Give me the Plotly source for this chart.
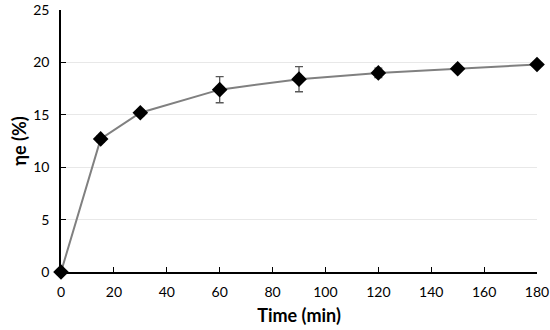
import plotly.graph_objects as go

time_min = [0, 15, 30, 60, 90, 120, 150, 180]
eta_e = [0.0, 12.7, 15.2, 17.4, 18.4, 19.0, 19.4, 19.8]
eta_err = [0.0, 0.3, 0.3, 1.25, 1.2, 0.45, 0.2, 0.2]
x_ticks = [0, 20, 40, 60, 80, 100, 120, 140, 160, 180]
y_ticks = [0, 5, 10, 15, 20, 25]

fig = go.Figure()
fig.add_trace(go.Scatter(
    x=time_min, y=eta_e,
    mode="lines+markers",
    line=dict(color="#808080", width=2),
    marker=dict(symbol="diamond", size=12, color="black"),
    error_y=dict(type="data", array=eta_err, visible=True,
                 color="#595959", thickness=1.3, width=4),
    showlegend=False,
    cliponaxis=False,
))

font_family = "Lato, Open Sans, DejaVu Sans"
fig.update_layout(
    width=550, height=330,
    margin=dict(l=61, r=13, t=10, b=58),
    paper_bgcolor="white", plot_bgcolor="white",
    font=dict(family=font_family, size=14, color="black"),
)
fig.update_xaxes(
    range=[0, 180], tickvals=x_ticks, ticks="inside", ticklen=5,
    tickcolor="black", showline=True, linecolor="black", linewidth=1.5,
    showgrid=False, zeroline=False, automargin=False, ticklabelstandoff=6,
    title=dict(text="<b>Time (min)</b>", font=dict(size=18), standoff=11),
    tickfont=dict(size=14),
)
fig.update_yaxes(
    range=[0, 25], tickvals=y_ticks, ticks="inside", ticklen=5,
    tickcolor="black", showline=True, linecolor="black", linewidth=1.5,
    showgrid=True, gridcolor="#e8e8e8", gridwidth=1, zeroline=False,
    automargin=False, ticklabelstandoff=7,
    title=dict(text="<b>ηe (%)</b>", font=dict(size=18), standoff=2),
    tickfont=dict(size=14),
)
fig.write_html("out.html", config={"displayModeBar": False},
               post_script="document.body.style.margin='0';document.body.style.padding='0';")
